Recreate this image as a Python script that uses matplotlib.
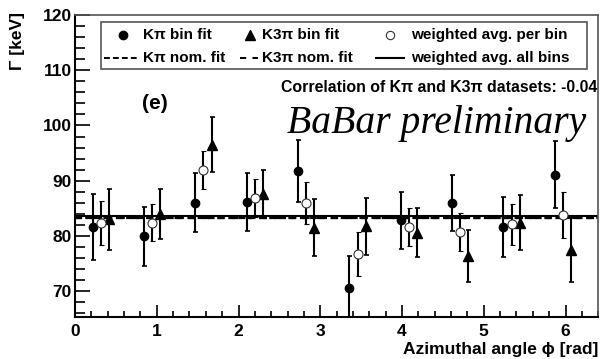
import numpy as np
import matplotlib.pyplot as plt
from matplotlib.patches import Rectangle

plt.rcParams['font.family'] = ['Liberation Sans', 'DejaVu Sans']
plt.rcParams['font.weight'] = 'bold'

# per-bin fit results, Gamma in keV, 10 bins in phi over [0, 2pi]
n_bins = 10
kpi_val = [81.6, 79.9, 86.0, 86.1, 91.8, 70.6, 82.8, 85.9, 81.6, 91.1]
kpi_err = [6.0, 5.3, 5.3, 5.2, 5.6, 5.7, 5.2, 5.1, 5.4, 6.0]
k3pi_val = [83.0, 84.0, 96.5, 87.6, 81.5, 81.7, 80.6, 76.4, 82.4, 77.5]
k3pi_err = [5.5, 4.5, 5.0, 4.3, 5.1, 5.2, 4.5, 4.7, 5.0, 5.8]
avg_val = [82.4, 82.4, 91.9, 86.9, 86.0, 76.7, 81.6, 80.7, 82.1, 83.8]
avg_err = [4.0, 3.4, 3.5, 3.4, 3.8, 4.0, 3.4, 3.5, 3.7, 4.2]

kpi_nominal = 83.3
k3pi_nominal = 83.2
avg_all_bins = 83.6
correlation = -0.04

edges = np.linspace(0, 2*np.pi, n_bins + 1)
centers = 0.5*(edges[1:] + edges[:-1])
shift = 0.1

kpi_ls = (0, (3.0, 1.6))
k3pi_ls = (0, (3.2, 3.2))

fig = plt.figure(figsize=(6, 3.59), dpi=100)
ax = fig.add_axes([0.125, 0.117, 0.872, 0.841])

ax.set_xlim(0, 6.4)
ax.set_ylim(65.3, 120)

# nominal fits and overall average
ax.axhline(kpi_nominal, color='black', lw=1.6, ls=kpi_ls, zorder=2)
ax.axhline(k3pi_nominal, color='black', lw=1.6, ls=k3pi_ls, zorder=2)
ax.axhline(avg_all_bins, color='black', lw=1.5, zorder=2)

eb = dict(ecolor='black', elinewidth=1.5, capsize=1.8, capthick=1.2, ls='none')
ax.errorbar(centers - shift, kpi_val, yerr=kpi_err, fmt='o', ms=6,
            mfc='black', mec='black', zorder=4, **eb)
ax.errorbar(centers + shift, k3pi_val, yerr=k3pi_err, fmt='^', ms=6.5,
            mfc='black', mec='black', zorder=4, **eb)
ax.errorbar(centers, avg_val, yerr=avg_err, fmt='o', ms=6.5,
            mfc='white', mec='#333333', mew=0.8, zorder=4, **eb)

ax.xaxis.set_major_locator(plt.MultipleLocator(1))
ax.xaxis.set_minor_locator(plt.MultipleLocator(0.2))
ax.yaxis.set_major_locator(plt.MultipleLocator(10))
ax.yaxis.set_minor_locator(plt.MultipleLocator(2))
ax.tick_params(axis='both', which='both', direction='in', top=False, right=False,
               labelsize=12.5, width=1.2)
ax.tick_params(axis='x', which='major', length=9, pad=5)
ax.tick_params(axis='x', which='minor', length=4.5)
ax.tick_params(axis='y', which='major', length=11, pad=2.5)
ax.tick_params(axis='y', which='minor', length=7)
for lab in ax.get_xticklabels() + ax.get_yticklabels():
    lab.set_fontweight('bold')

for side in ['left', 'bottom']:
    ax.spines[side].set_linewidth(1.5)
for side in ['top', 'right']:
    ax.spines[side].set_linewidth(1.2)
    ax.spines[side].set_color('#555555')

ax.set_ylabel('Γ [keV]', fontsize=12.5, fontweight='bold', loc='top')
ax.yaxis.set_label_coords(-0.096, 1.01)
ax.set_xlabel('Azimuthal angle ϕ [rad]', fontsize=12.5, fontweight='bold',
              ha='right', va='baseline')
ax.xaxis.set_label_coords(1.0, -0.122)

ax.text(0.82, 104, '(e)', fontsize=15, fontweight='bold', va='center')
ax.text(0.998, 0.745, f'Correlation of Kπ and K3π datasets: {correlation:.2f}',
        transform=ax.transAxes, ha='right', va='baseline', fontsize=11.4,
        fontweight='bold')
ax.text(0.977, 0.61, 'BaBar preliminary', transform=ax.transAxes, ha='right',
        va='baseline', fontsize=28.5, family='Liberation Serif', style='italic',
        fontweight='normal')

# legend box drawn by hand (ROOT-style layout, columns with different handle widths)
tr = ax.transAxes
ax.add_patch(Rectangle((0.05, 0.821), 0.929, 0.156, transform=tr, fill=True,
                       facecolor='white', edgecolor='#555555', lw=1.2, zorder=5))
row1, row2 = 0.935, 0.858
lk = dict(transform=tr, clip_on=False, zorder=6)
tk = dict(transform=tr, va='center', ha='left', fontsize=11.0, fontweight='bold', zorder=6)
ax.plot([0.091], [row1], 'o', ms=6, color='black', **lk)
ax.text(0.130, row1, 'Kπ bin fit', **tk)
ax.plot([0.335], [row1], '^', ms=6.5, color='black', **lk)
ax.text(0.357, row1, 'K3π bin fit', **tk)
ax.plot([0.602], [row1], 'o', ms=6, mfc='white', mec='#333333', mew=0.8, **lk)
ax.text(0.643, row1, 'weighted avg. per bin', **tk)
ax.plot([0.055, 0.121], [row2, row2], color='black', lw=1.4, ls=kpi_ls, **lk)
ax.text(0.130, row2, 'Kπ nom. fit', **tk)
ax.plot([0.316, 0.350], [row2, row2], color='black', lw=1.4, ls=k3pi_ls, **lk)
ax.text(0.357, row2, 'K3π nom. fit', **tk)
ax.plot([0.575, 0.629], [row2, row2], color='black', lw=1.5, **lk)
ax.text(0.643, row2, 'weighted avg. all bins', **tk)

fig.savefig('out.png', dpi=100)
